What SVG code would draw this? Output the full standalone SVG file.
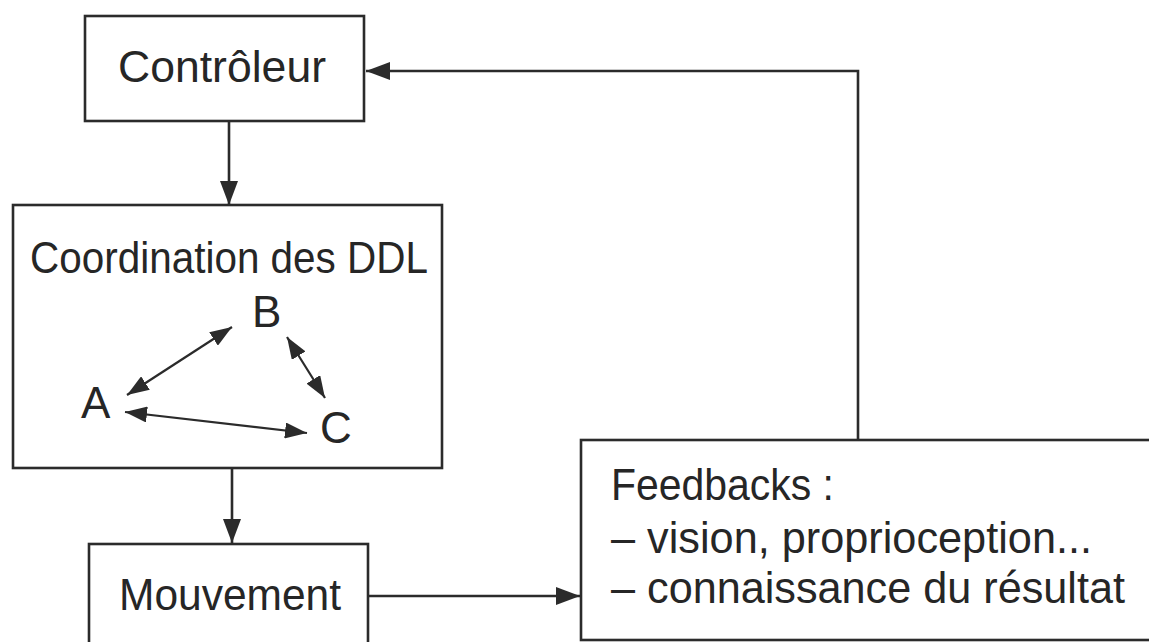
<svg xmlns="http://www.w3.org/2000/svg" width="1149" height="642" viewBox="0 0 1149 642">
<style>
.box{fill:#fff;stroke:#2b2b2b;stroke-width:2.6}
.ln{fill:none;stroke:#2b2b2b;stroke-width:2.6}
.ln2{fill:none;stroke:#2b2b2b;stroke-width:2.2}
text{font-family:"Liberation Sans",Arial,sans-serif;fill:#262626;font-size:44px}
</style>
<defs>
<marker id="ah" markerUnits="userSpaceOnUse" markerWidth="24" markerHeight="18" refX="24" refY="9" orient="auto-start-reverse">
<path d="M0,0 L24,9 L0,18 z" fill="#2b2b2b"/>
</marker>
<marker id="ahs" markerUnits="userSpaceOnUse" markerWidth="22" markerHeight="16" refX="22" refY="8" orient="auto-start-reverse">
<path d="M0,0 L22,8 L0,16 z" fill="#2b2b2b"/>
</marker>
</defs>
<rect width="1149" height="642" fill="#fff"/>
<g id="controleur">
<rect class="box" x="85" y="16" width="279" height="105"/>
<text x="118" y="82" textLength="208" lengthAdjust="spacingAndGlyphs">Contrôleur</text>
</g>
<g id="coordination">
<rect class="box" x="13" y="205" width="429" height="263"/>
<text x="30" y="273" textLength="398" lengthAdjust="spacingAndGlyphs">Coordination des DDL</text>
</g>
<g id="nodeB"><text x="252" y="327">B</text></g>
<g id="nodeA"><text x="81" y="418">A</text></g>
<g id="nodeC"><text x="320" y="443">C</text></g>
<g id="mouvement">
<rect class="box" x="89" y="544" width="279" height="120"/>
<text x="119" y="610" textLength="222" lengthAdjust="spacingAndGlyphs">Mouvement</text>
</g>
<g id="feedbacks">
<rect class="box" x="581" y="440" width="600" height="200"/>
<text x="611" y="500" textLength="223" lengthAdjust="spacingAndGlyphs">Feedbacks :</text>
<text x="611" y="553" textLength="481" lengthAdjust="spacingAndGlyphs">– vision, proprioception...</text>
<text x="611" y="603" textLength="514" lengthAdjust="spacingAndGlyphs">– connaissance du résultat</text>
</g>
<g id="connectors">
<line class="ln" x1="229" y1="121" x2="229" y2="205" marker-end="url(#ah)"/>
<line class="ln" x1="232" y1="468" x2="232" y2="543" marker-end="url(#ah)"/>
<line class="ln" x1="368" y1="596" x2="580" y2="596" marker-end="url(#ah)"/>
<path class="ln" d="M858,440 V71 H366" marker-end="url(#ah)"/>
<line class="ln2" x1="127" y1="395" x2="232" y2="327" marker-start="url(#ahs)" marker-end="url(#ahs)"/>
<line class="ln2" x1="287" y1="337" x2="325" y2="398" marker-start="url(#ahs)" marker-end="url(#ahs)"/>
<line class="ln2" x1="125" y1="412" x2="307" y2="433" marker-start="url(#ahs)" marker-end="url(#ahs)"/>
</g>
</svg>
